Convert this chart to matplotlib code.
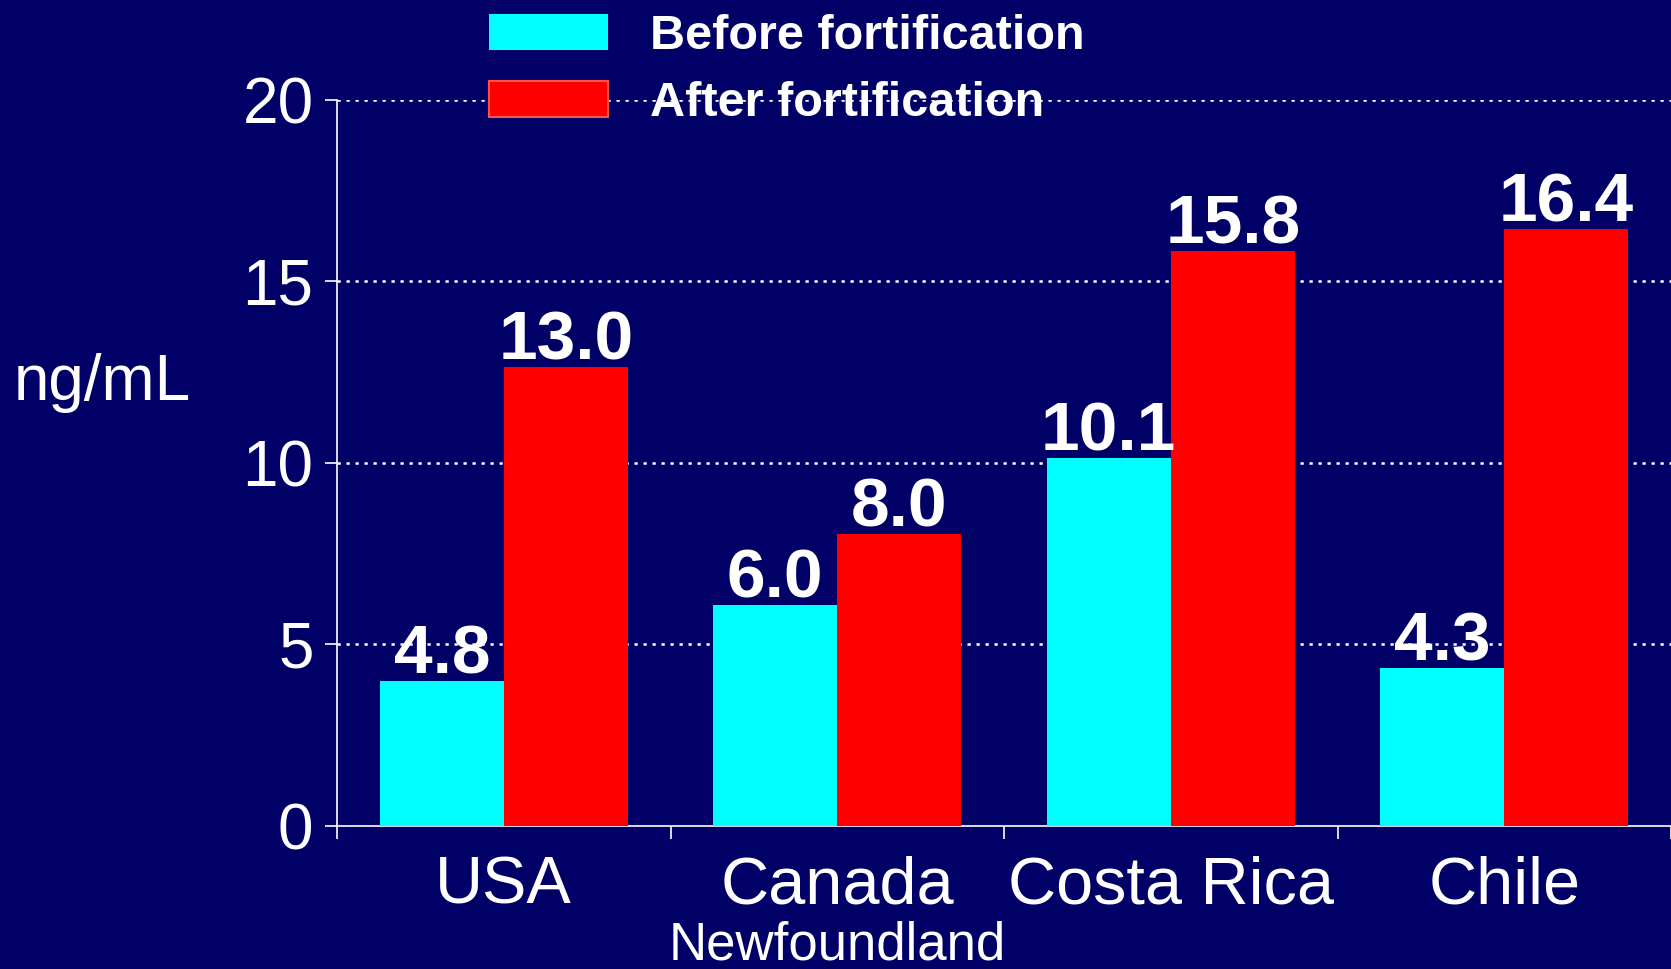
import matplotlib
matplotlib.use("Agg")
import matplotlib.pyplot as plt
import numpy as np

categories = ["USA", "Canada", "Costa Rica", "Chile"]
sublabels = ["", "Newfoundland", "", ""]
before_vals = [4.0, 6.1, 10.15, 4.35]
after_vals = [12.65, 8.05, 15.85, 16.45]
before_labels = ["4.8", "6.0", "10.1", "4.3"]
after_labels = ["13.0", "8.0", "15.8", "16.4"]
series_names = ["Before fortification", "After fortification"]
yticks = [0, 5, 10, 15, 20]

BG = "#000066"
CYAN = "#00FFFF"
RED = "#FF0000"
FONT = "Liberation Sans"

plt.rcParams["font.family"] = [FONT, "DejaVu Sans"]

fig = plt.figure(figsize=(16.71, 9.69), dpi=100, facecolor=BG)
ax = fig.add_axes([0.2017, 0.1476, 0.7983, 0.7492], facecolor=BG)

x = np.arange(len(categories))
w = 0.372
b1 = ax.bar(x - w / 2, before_vals, w, color=CYAN, linewidth=0, zorder=3, label=series_names[0])
b2 = ax.bar(x + w / 2, after_vals, w, color=RED, linewidth=0, zorder=3, label=series_names[1])

for bars, labels in ((b1, before_labels), (b2, after_labels)):
    for rect, lab in zip(bars, labels):
        ax.text(rect.get_x() + rect.get_width() / 2, rect.get_height() + 0.2, lab,
                ha="center", va="baseline", color="white", fontsize=50,
                fontweight="bold", zorder=5)

ax.set_xlim(-0.5, len(categories) - 0.5)
ax.set_ylim(0, 20)
ax.set_yticks(yticks)
ax.set_yticklabels([str(t) for t in yticks])
ax.tick_params(axis="y", colors="white", labelsize=46, length=9, width=1.2, pad=8)
ax.set_xticks(np.arange(len(categories) + 1) - 0.5)
ax.set_xticklabels([""] * (len(categories) + 1))
ax.tick_params(axis="x", which="major", colors="white", length=9, width=1.2)
ax.set_xticks(x, minor=True)
ax.set_xticklabels(categories, minor=True)
ax.tick_params(axis="x", which="minor", colors="white", labelsize=48, length=0, pad=21)

for i, s in enumerate(sublabels):
    if s:
        ax.text(i, -0.164, s, transform=ax.get_xaxis_transform(), ha="center", va="center",
                color="white", fontsize=38)

for t in yticks[1:]:
    ax.axhline(t, color="white", linestyle=(0, (1.3, 2.3)), linewidth=1.8, zorder=1)

for sp in ["top", "right"]:
    ax.spines[sp].set_visible(False)
for sp in ["left", "bottom"]:
    ax.spines[sp].set_color("white")
    ax.spines[sp].set_linewidth(1.2)

fig.text(0.008, 0.605, "ng/mL", color="white", fontsize=46, ha="left", va="center")

leg = fig.legend(handles=[b1, b2], labels=series_names, loc="upper left",
                 bbox_to_anchor=(0.2783, 1.011), frameon=False, borderpad=0,
                 handlelength=2.45, handleheight=0.76, handletextpad=0.85,
                 labelspacing=0.45, prop={"family": FONT, "weight": "bold", "size": 35})
for txt in leg.get_texts():
    txt.set_color("white")
leg.legend_handles[1].set_edgecolor("#FF5050")
leg.legend_handles[1].set_linewidth(1.5)

fig.savefig("out.png", dpi=100, facecolor=BG)
